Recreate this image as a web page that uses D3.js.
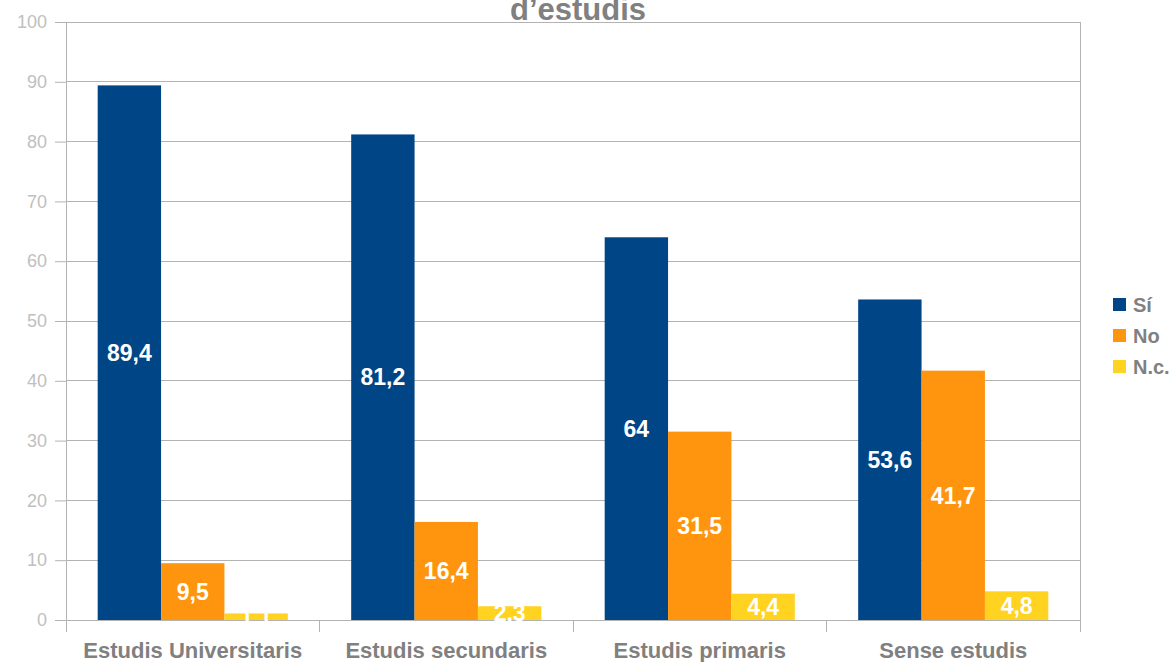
<!DOCTYPE html>
<html><head><meta charset="utf-8">
<script src="https://cdn.jsdelivr.net/npm/d3@7"></script>
<style>body{margin:0;background:#fff;}svg{display:block;font-family:"Liberation Sans",Arial,sans-serif;}</style>
</head><body>
<svg id="c" width="1174" height="662"></svg>
<script>
const categories = ["Estudis Universitaris","Estudis secundaris","Estudis primaris","Sense estudis"];
const seriesNames = ["Sí","No","N.c."];
const valSi = [89.4, 81.2, 64, 53.6];
const valNo = [9.5, 16.4, 31.5, 41.7];
const valNc = [1.1, 2.3, 4.4, 4.8];
const colors = ["#004586","#ff950e","#ffd320"];
const yTicks = [0,10,20,30,40,50,60,70,80,90,100];
const title = "d’estudis";

(function(){
const svg = d3.select("#c");
const pLeft = 66, pRight = 1080, pTop = 22, pBottom = 620;
const x = d3.scaleBand().domain(categories).range([pLeft, pRight]);
const inner = d3.scaleBand().domain(seriesNames).range([x.bandwidth()/8, x.bandwidth()*7/8]);
const y = d3.scaleLinear().domain([0,100]).range([pBottom, pTop]);

// gridlines
svg.append("g").selectAll("line").data(yTicks).join("line")
  .attr("x1", pLeft).attr("x2", pRight).attr("y1", d=>y(d)).attr("y2", d=>y(d))
  .attr("stroke", "#b3b3b3").attr("stroke-width", 1).attr("shape-rendering","crispEdges");
svg.append("line").attr("x1", pRight).attr("x2", pRight).attr("y1", pTop).attr("y2", pBottom)
  .attr("stroke", "#b3b3b3").attr("shape-rendering","crispEdges");

// y axis
const yAxis = svg.append("g").attr("transform", `translate(${pLeft},0)`)
  .call(d3.axisLeft(y).tickValues(yTicks).tickSize(11).tickPadding(8).tickFormat(d3.format("d")));
yAxis.select(".domain").attr("stroke","#b3b3b3");
yAxis.selectAll(".tick line").attr("stroke","#b3b3b3");
yAxis.selectAll("text").attr("fill","#c0c0c0").style("font-size","18px").style("font-family","Liberation Sans, Arial, sans-serif");

// x axis
const xAxis = svg.append("g").attr("transform", `translate(0,${pBottom})`)
  .call(d3.axisBottom(x).tickSize(0));
xAxis.select(".domain").remove();
xAxis.append("line").attr("x1", pLeft).attr("x2", pRight).attr("stroke","#b3b3b3").attr("shape-rendering","crispEdges");
const bounds = categories.map(c=>x(c)).concat([pRight]);
xAxis.selectAll(".sep").data(bounds).join("line").attr("class","sep")
  .attr("x1", d=>d).attr("x2", d=>d).attr("y1", 0).attr("y2", 12)
  .attr("stroke","#b3b3b3").attr("shape-rendering","crispEdges");
xAxis.selectAll(".tick text").attr("fill","#808080").style("font-size","22px").style("font-weight","bold")
  .style("font-family","Liberation Sans, Arial, sans-serif").attr("y", 38).attr("dy","0");

// bars
const series = [valSi, valNo, valNc];
const rows = [];
categories.forEach((c,i)=>series.forEach((s,j)=>rows.push({cat:c, name:seriesNames[j], v:s[i], color:colors[j]})));
const barG = svg.append("g");
barG.selectAll("rect").data(rows).join("rect")
  .attr("x", d=>x(d.cat)+inner(d.name)).attr("width", inner.bandwidth())
  .attr("y", d=>y(d.v)).attr("height", d=>y(0)-y(d.v)).attr("fill", d=>d.color);
barG.selectAll("text").data(rows).join("text")
  .attr("x", d=>x(d.cat)+inner(d.name)+inner.bandwidth()/2)
  .attr("y", d=>(y(d.v)+y(0))/2).attr("dy","0.36em")
  .attr("text-anchor","middle").attr("fill","#fff").style("font-size","23px").style("font-weight","bold")
  .text(d=>String(d.v).replace(".",","));

// title
svg.append("text").attr("x", 578).attr("y", 20).attr("text-anchor","middle")
  .attr("fill","#808080").style("font-size","31px").style("font-weight","bold").text(title);

// legend
const lg = svg.append("g").attr("transform","translate(1113,298)");
seriesNames.forEach((n,i)=>{
  const g = lg.append("g").attr("transform",`translate(0,${i*31})`);
  g.append("rect").attr("width",13).attr("height",13).attr("fill",colors[i]);
  g.append("text").attr("x",20).attr("y",6.5).attr("dy","0.36em").attr("fill","#808080")
    .style("font-size","20px").style("font-weight","bold").text(n);
});
})();
</script>
</body></html>
